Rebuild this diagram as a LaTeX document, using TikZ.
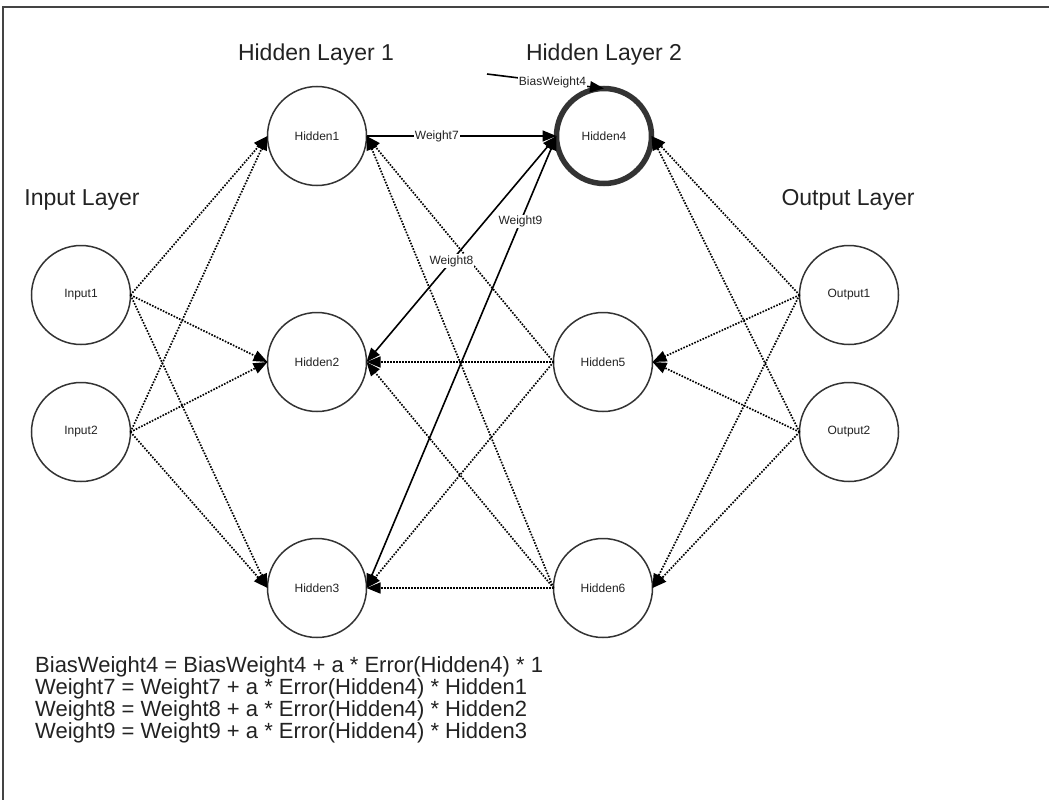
\documentclass[tikz,border=0pt]{standalone}
\usepackage{fontspec}
\setmainfont{Liberation Sans}
\usetikzlibrary{arrows.meta}
\definecolor{circ}{HTML}{333333}
\definecolor{txt}{HTML}{222222}
\definecolor{framec}{HTML}{444444}
\begin{document}
\begin{tikzpicture}[x=1pt,y=-1pt,
  neuron/.style={circle,draw=circ,line width=1.5pt,minimum size=99pt,inner sep=0pt,outer sep=0pt,
    font=\fontsize{12}{14}\selectfont,text=txt},
  hot/.style={line width=5.5pt,draw=circ,minimum size=95pt},
  title/.style={font=\fontsize{23}{27}\selectfont,text=txt,inner sep=0pt},
  formula/.style={font=\fontsize{22}{22.2}\selectfont,text=txt,align=left,inner sep=0pt},
  tip/.style={-{Triangle[length=14pt,width=11pt]}},
  dotl/.style={tip,line width=1.7pt,dash pattern=on 1.6pt off 1.4pt,draw=black},
  solidl/.style={tip,line width=1.6pt,draw=black},
  both/.style={{Triangle[length=14pt,width=11pt]}-{Triangle[length=14pt,width=11pt]}},
  wlabel/.style={font=\fontsize{12}{14}\selectfont,text=txt,fill=white,inner sep=1pt}
]
\useasboundingbox (0,0) rectangle (1049,800);
\draw[framec,line width=1.5pt] (3,800) -- (3,7) -- (1049,7);

% titles
\node[title] (tin) at (82,200) {Input Layer};
\node[title] (th1) at (316,55) {Hidden Layer 1};
\node[title] (th2) at (604,55) {Hidden Layer 2};
\node[title] (tout) at (848,200) {Output Layer};

% neurons
\node[neuron] (in1) at (81,295) {Input1};
\node[neuron] (in2) at (81,432) {Input2};
\node[neuron] (h1) at (317,136) {Hidden1};
\node[neuron] (h2) at (317,362) {Hidden2};
\node[neuron] (h3) at (317,588) {Hidden3};
\node[neuron,hot] (h4) at (604,136) {Hidden4};
\node[neuron] (h5) at (603,362) {Hidden5};
\node[neuron] (h6) at (603,588) {Hidden6};
\node[neuron] (o1) at (849,295) {Output1};
\node[neuron] (o2) at (849,432) {Output2};

% input -> hidden layer 1
\foreach \s in {in1,in2}{
  \foreach \t in {h1,h2,h3}{
    \draw[dotl] (\s.east) -- (\t.west);
  }
}
% hidden5/6 -> hidden layer 1
\foreach \s in {h5,h6}{
  \foreach \t in {h1,h2,h3}{
    \draw[dotl] (\s.west) -- (\t.east);
  }
}
% output -> hidden layer 2
\foreach \s in {o1,o2}{
  \foreach \t in {h4,h5,h6}{
    \draw[dotl] (\s.west) -- (\t.east);
  }
}

% weights into Hidden4
\draw[solidl] (h1.east) -- node[wlabel,pos=0.37] (w7) {Weight7} (h4.west);
\draw[solidl,both] (h4.west) -- node[wlabel,pos=0.553] (w8) {Weight8} (h2.east);
\draw[solidl,both] (h4.west) -- node[wlabel,pos=0.19] (w9) {Weight9} (h3.east);

% bias
\coordinate (bias) at (487,74);
\draw[solidl] (bias) -- node[wlabel,pos=0.56] (bw) {BiasWeight4} (h4.north);

% formulas
\node[formula,anchor=north west] (eq) at (35,656) {BiasWeight4 = BiasWeight4 + a * Error(Hidden4) * 1\\
Weight7 = Weight7 + a * Error(Hidden4) * Hidden1\\
Weight8 = Weight8 + a * Error(Hidden4) * Hidden2\\
Weight9 = Weight9 + a * Error(Hidden4) * Hidden3};
\end{tikzpicture}
\end{document}
